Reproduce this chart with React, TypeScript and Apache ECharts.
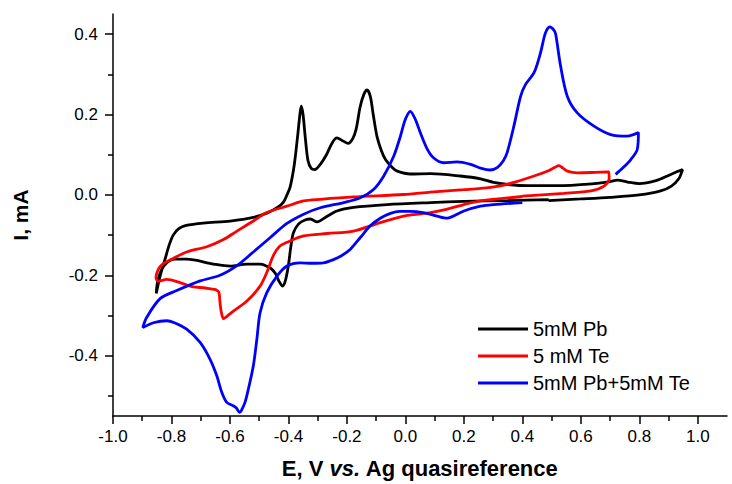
import { useEffect, useRef } from "react";
import * as echarts from "echarts";

// Cyclic voltammograms: [E (V vs. Ag), I (mA)]
const pbCurve: [number, number][] = [
  [0.49, -0.012], [0.35, -0.014], [0.2, -0.016], [0.086, -0.019], [-0.063, -0.024],
  [-0.177, -0.031], [-0.234, -0.04], [-0.274, -0.056], [-0.302, -0.067], [-0.325, -0.06],
  [-0.345, -0.063], [-0.365, -0.072], [-0.383, -0.094], [-0.392, -0.13], [-0.4, -0.175],
  [-0.41, -0.212], [-0.42, -0.227], [-0.432, -0.215], [-0.445, -0.195], [-0.462, -0.182],
  [-0.497, -0.172], [-0.542, -0.172], [-0.599, -0.177], [-0.656, -0.172], [-0.748, -0.16],
  [-0.79, -0.16], [-0.815, -0.168], [-0.835, -0.188], [-0.848, -0.218], [-0.852, -0.245],
  [-0.84, -0.205], [-0.822, -0.16], [-0.808, -0.125], [-0.794, -0.1], [-0.775, -0.084],
  [-0.75, -0.076], [-0.691, -0.07], [-0.599, -0.065], [-0.52, -0.056], [-0.47, -0.044],
  [-0.435, -0.03], [-0.417, -0.018], [-0.405, 0.0], [-0.394, 0.02], [-0.38, 0.075],
  [-0.368, 0.15], [-0.36, 0.205], [-0.356, 0.221], [-0.35, 0.2], [-0.342, 0.14],
  [-0.333, 0.085], [-0.322, 0.066], [-0.31, 0.063], [-0.291, 0.076], [-0.27, 0.1],
  [-0.25, 0.13], [-0.234, 0.142], [-0.215, 0.135], [-0.196, 0.128], [-0.18, 0.14],
  [-0.168, 0.165], [-0.155, 0.218], [-0.142, 0.25], [-0.131, 0.261], [-0.12, 0.245],
  [-0.11, 0.2], [-0.097, 0.145], [-0.082, 0.11], [-0.068, 0.088], [-0.045, 0.068],
  [-0.028, 0.059], [0.017, 0.052], [0.086, 0.053], [0.188, 0.047], [0.257, 0.04],
  [0.302, 0.031], [0.35, 0.026], [0.417, 0.023], [0.52, 0.023], [0.645, 0.028],
  [0.7, 0.033], [0.725, 0.037], [0.76, 0.032], [0.8, 0.028], [0.86, 0.036],
  [0.896, 0.047], [0.93, 0.058], [0.948, 0.063], [0.935, 0.04], [0.91, 0.022],
  [0.873, 0.01], [0.8, 0.0], [0.7, -0.006], [0.6, -0.01], [0.49, -0.014],
];

const teCurve: [number, number][] = [
  [0.4, -0.004], [0.257, -0.015], [0.2, -0.024], [0.14, -0.036], [0.086, -0.044],
  [0.028, -0.049], [-0.006, -0.053], [-0.086, -0.069], [-0.177, -0.09], [-0.268, -0.096],
  [-0.348, -0.102], [-0.405, -0.118], [-0.43, -0.128], [-0.451, -0.15], [-0.474, -0.193],
  [-0.497, -0.227], [-0.542, -0.264], [-0.588, -0.289], [-0.61, -0.302], [-0.622, -0.308],
  [-0.63, -0.29], [-0.634, -0.268], [-0.638, -0.242], [-0.648, -0.236], [-0.656, -0.235],
  [-0.69, -0.231], [-0.725, -0.229], [-0.771, -0.218], [-0.816, -0.21], [-0.845, -0.215],
  [-0.853, -0.205], [-0.845, -0.185], [-0.83, -0.172], [-0.805, -0.162], [-0.748, -0.142],
  [-0.679, -0.129], [-0.622, -0.111], [-0.576, -0.09], [-0.52, -0.065], [-0.474, -0.044],
  [-0.405, -0.028], [-0.348, -0.015], [-0.291, -0.011], [-0.177, -0.005], [-0.006, 0.001],
  [0.086, 0.007], [0.2, 0.013], [0.257, 0.016], [0.32, 0.022], [0.371, 0.031],
  [0.44, 0.047], [0.485, 0.059], [0.51, 0.068], [0.525, 0.073], [0.54, 0.066],
  [0.554, 0.059], [0.588, 0.055], [0.65, 0.056], [0.696, 0.057], [0.697, 0.04],
  [0.679, 0.022], [0.634, 0.01], [0.542, 0.004], [0.4, -0.003],
];

const pbTeCurve: [number, number][] = [
  [0.4, -0.019], [0.302, -0.024], [0.257, -0.028], [0.2, -0.04], [0.16, -0.054],
  [0.143, -0.058], [0.109, -0.053], [0.06, -0.044], [0.017, -0.041], [-0.02, -0.041],
  [-0.051, -0.046], [-0.086, -0.058], [-0.12, -0.077], [-0.154, -0.106], [-0.188, -0.135],
  [-0.22, -0.152], [-0.246, -0.161], [-0.28, -0.169], [-0.32, -0.17], [-0.36, -0.169],
  [-0.405, -0.177], [-0.439, -0.202], [-0.474, -0.243], [-0.497, -0.293], [-0.508, -0.359],
  [-0.52, -0.425], [-0.537, -0.483], [-0.548, -0.515], [-0.56, -0.535], [-0.567, -0.541],
  [-0.578, -0.53], [-0.588, -0.525], [-0.611, -0.516], [-0.628, -0.491], [-0.645, -0.45],
  [-0.668, -0.409], [-0.702, -0.367], [-0.748, -0.334], [-0.79, -0.318], [-0.816, -0.313],
  [-0.862, -0.318], [-0.898, -0.33], [-0.885, -0.305], [-0.839, -0.258], [-0.782, -0.238],
  [-0.702, -0.214], [-0.634, -0.2], [-0.576, -0.176], [-0.52, -0.142], [-0.462, -0.106],
  [-0.405, -0.071], [-0.348, -0.048], [-0.291, -0.032], [-0.211, -0.019], [-0.154, -0.007],
  [-0.108, 0.014], [-0.074, 0.047], [-0.04, 0.096], [-0.017, 0.146], [0.0, 0.188],
  [0.017, 0.208], [0.034, 0.188], [0.051, 0.155], [0.074, 0.115], [0.095, 0.093],
  [0.131, 0.08], [0.177, 0.082], [0.223, 0.076], [0.26, 0.066], [0.29, 0.062],
  [0.314, 0.068], [0.335, 0.085], [0.348, 0.105], [0.371, 0.171], [0.394, 0.245],
  [0.411, 0.275], [0.44, 0.304], [0.462, 0.353], [0.479, 0.403], [0.494, 0.418],
  [0.508, 0.41], [0.514, 0.4], [0.531, 0.32], [0.554, 0.245], [0.588, 0.204],
  [0.645, 0.171], [0.702, 0.15], [0.759, 0.146], [0.797, 0.155], [0.793, 0.113],
  [0.771, 0.088], [0.745, 0.068], [0.719, 0.051],
];

const seriesNames = ["5mM Pb", "5 mM Te", "5mM Pb+5mM Te"];
const seriesColors = ["#000000", "#ff0000", "#0000ff"];

const xMajorTicks = [-1.0, -0.8, -0.6, -0.4, -0.2, 0.0, 0.2, 0.4, 0.6, 0.8, 1.0];
const xMinorTicks = [-0.9, -0.7, -0.5, -0.3, -0.1, 0.1, 0.3, 0.5, 0.7, 0.9];
const yMajorTicks = [-0.4, -0.2, 0.0, 0.2, 0.4];
const yMinorTicks = [-0.5, -0.3, -0.1, 0.1, 0.3];

const X_MIN = -1.0;
const X_MAX = 1.1;
const Y_MIN = -0.55;
const Y_MAX = 0.45;

const FONT = "'Liberation Sans', Arial, Helvetica, sans-serif";
const AXIS_COLOR = "#000";

export default function App() {
  const ref = useRef<HTMLDivElement>(null);

  useEffect(() => {
    if (!ref.current) return;
    const chart = echarts.init(ref.current, null, { renderer: "svg", width: 732, height: 484 });

    const axisLine = { show: true, onZero: false, lineStyle: { color: AXIS_COLOR, width: 1.5 } };
    const tickLine = { color: AXIS_COLOR, width: 1.5 };
    const tickLabel = {
      fontSize: 17,
      color: "#000",
      fontFamily: FONT,
      formatter: (v: number) => v.toFixed(1),
    };

    const curves = [pbCurve, teCurve, pbTeCurve];

    chart.setOption({
      animation: false,
      backgroundColor: "#ffffff",
      grid: { left: 113, right: 5, top: 14, bottom: 67, containLabel: false },
      legend: {
        orient: "vertical",
        left: 473,
        top: 314,
        itemWidth: 50,
        itemHeight: 3,
        itemGap: 7,
        icon: "rect",
        data: seriesNames,
        textStyle: { fontSize: 20, lineHeight: 20, color: "#000", fontFamily: FONT, padding: [0, 0, 0, 0] },
      },
      xAxis: [
        {
          type: "value",
          min: X_MIN,
          max: X_MAX,
          position: "bottom",
          axisLine,
          splitLine: { show: false },
          axisTick: { show: true, inside: false, length: 8, customValues: xMajorTicks, lineStyle: tickLine },
          axisLabel: { ...tickLabel, margin: 12, customValues: xMajorTicks },
          name: "E, V {i|vs.} Ag quasireference",
          nameLocation: "middle",
          nameGap: 41,
          nameTextStyle: {
            fontSize: 22,
            fontWeight: "bold",
            color: "#000",
            fontFamily: FONT,
            rich: {
              i: { fontSize: 22, fontWeight: "bold", fontStyle: "italic", color: "#000", fontFamily: FONT },
            },
          },
        },
        {
          type: "value",
          min: X_MIN,
          max: X_MAX,
          position: "bottom",
          axisLine: { show: false, onZero: false },
          splitLine: { show: false },
          axisTick: { show: true, inside: false, length: 5, customValues: xMinorTicks, lineStyle: tickLine },
          axisLabel: { show: false },
        },
      ],
      yAxis: [
        {
          type: "value",
          min: Y_MIN,
          max: Y_MAX,
          position: "left",
          axisLine,
          splitLine: { show: false },
          axisTick: { show: true, inside: false, length: 8, customValues: yMajorTicks, lineStyle: tickLine },
          axisLabel: { ...tickLabel, margin: 15, customValues: yMajorTicks },
          name: "I, mA",
          nameLocation: "middle",
          nameGap: 82,
          nameTextStyle: { fontSize: 21, fontWeight: "bold", color: "#000", fontFamily: FONT },
        },
        {
          type: "value",
          min: Y_MIN,
          max: Y_MAX,
          position: "left",
          axisLine: { show: false, onZero: false },
          splitLine: { show: false },
          axisTick: { show: true, inside: false, length: 5, customValues: yMinorTicks, lineStyle: tickLine },
          axisLabel: { show: false },
        },
      ],
      series: curves.map((data, i) => ({
        name: seriesNames[i],
        type: "line",
        xAxisIndex: 0,
        yAxisIndex: 0,
        data,
        symbol: "none",
        smooth: 0.3,
        color: seriesColors[i],
        lineStyle: { color: seriesColors[i], width: 2.8 },
        itemStyle: { color: seriesColors[i] },
      })),
    });

    return () => chart.dispose();
  }, []);

  return (
    <div
      ref={ref}
      style={{ position: "fixed", left: 0, top: 0, width: 732, height: 484, background: "#fff" }}
    />
  );
}
